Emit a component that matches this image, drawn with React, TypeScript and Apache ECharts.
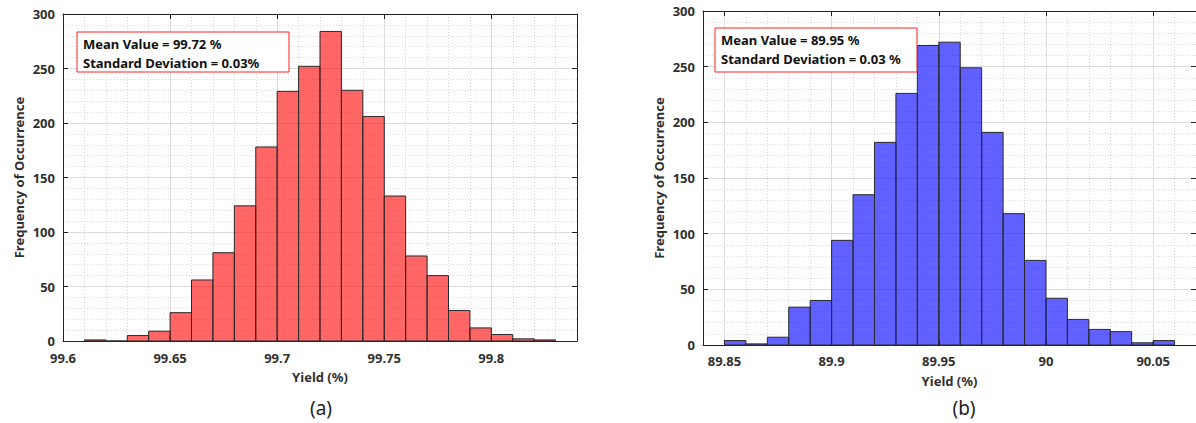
import React, { useEffect, useRef } from "react";
import * as echarts from "echarts";

// ---- data ----
const BIN_WIDTH = 0.01;
const binStartsA = [99.61, 99.62, 99.63, 99.64, 99.65, 99.66, 99.67, 99.68, 99.69, 99.7, 99.71, 99.72, 99.73, 99.74, 99.75, 99.76, 99.77, 99.78, 99.79, 99.8, 99.81, 99.82];
const countsA = [1, 0, 5, 9, 26, 56, 81, 124, 178, 229, 252, 284, 230, 206, 133, 78, 60, 28, 12, 6, 2, 1];
const binStartsB = [89.85, 89.86, 89.87, 89.88, 89.89, 89.9, 89.91, 89.92, 89.93, 89.94, 89.95, 89.96, 89.97, 89.98, 89.99, 90.0, 90.01, 90.02, 90.03, 90.04, 90.05];
const countsB = [4, 1, 7, 34, 40, 94, 135, 182, 226, 269, 272, 249, 191, 118, 76, 42, 23, 14, 12, 2, 4];
const xRangeA = [99.6, 99.84];
const xRangeB = [89.84, 90.07];
const yRange = [0, 300];
const annotA = ["Mean Value = 99.72 %", "Standard Deviation = 0.03%"];
const annotB = ["Mean Value = 89.95 %", "Standard Deviation = 0.03 %"];
const xTitle = "Yield (%)";
const yTitle = "Frequency of Occurrence";
const panelLabels = ["(a)", "(b)"];

const FONT = "'Noto Sans', 'Open Sans', 'DejaVu Sans', sans-serif";
const LABEL_COLOR = "#303030";
const AXIS_COLOR = "#222";

function toBins(starts: number[], counts: number[]) {
  return starts.map((s, i) => [s, +(s + BIN_WIDTH).toFixed(4), counts[i]]);
}

function xAxes(gridIndex: number, range: number[], showMin: boolean, margin: number) {
  const common = {
    type: "value" as const,
    gridIndex,
    min: range[0],
    max: range[1],
    axisLine: { show: true, onZero: false, lineStyle: { color: AXIS_COLOR, width: 1 } },
    axisTick: { show: true, inside: true, length: 5, lineStyle: { color: AXIS_COLOR } },
  };
  return [
    {
      ...common,
      position: "bottom",
      name: xTitle,
      nameLocation: "middle",
      nameGap: 29,
      nameTextStyle: { fontFamily: FONT, fontSize: 13, fontWeight: 700, color: LABEL_COLOR },
      axisLabel: {
        show: true,
        margin,
        lineHeight: 13,
        showMinLabel: showMin,
        showMaxLabel: false,
        fontFamily: FONT,
        fontSize: 13,
        fontWeight: 700,
        color: LABEL_COLOR,
      },
      splitLine: { show: true, lineStyle: { color: "#dcdcdc", width: 1 } },
      minorTick: { show: false, splitNumber: 5 },
      minorSplitLine: { show: true, lineStyle: { color: "#d8d8d8", type: [1, 2], width: 1 } },
    },
    {
      ...common,
      position: "top",
      axisLabel: { show: false },
      splitLine: { show: false },
    },
  ];
}

function yAxes(gridIndex: number) {
  const common = {
    type: "value" as const,
    gridIndex,
    min: yRange[0],
    max: yRange[1],
    interval: 50,
    axisLine: { show: true, onZero: false, lineStyle: { color: AXIS_COLOR, width: 1 } },
    axisTick: { show: true, inside: true, length: 5, lineStyle: { color: AXIS_COLOR } },
  };
  return [
    {
      ...common,
      position: "left",
      name: yTitle,
      nameLocation: "middle",
      nameGap: 38,
      nameTextStyle: { fontFamily: FONT, fontSize: 13, fontWeight: 700, color: LABEL_COLOR },
      axisLabel: {
        show: true,
        margin: 8,
        lineHeight: 12,
        fontFamily: FONT,
        fontSize: 13,
        fontWeight: 700,
        color: LABEL_COLOR,
      },
      splitLine: { show: true, lineStyle: { color: "#dcdcdc", width: 1 } },
      minorTick: { show: false, splitNumber: 5 },
      minorSplitLine: { show: true, lineStyle: { color: "#d8d8d8", type: [1, 2], width: 1 } },
    },
    {
      ...common,
      position: "right",
      axisLabel: { show: false },
      splitLine: { show: false },
    },
  ];
}

function histSeries(data: number[][], xi: number, yi: number, fill: string) {
  return {
    type: "custom",
    xAxisIndex: xi,
    yAxisIndex: yi,
    data,
    encode: { x: [0, 1], y: 2 },
    z: 3,
    renderItem: (params: any, api: any) => {
      const x0 = api.value(0);
      const x1 = api.value(1);
      const y = api.value(2);
      const p0 = api.coord([x0, y]);
      const p1 = api.coord([x1, 0]);
      return {
        type: "rect",
        shape: { x: p0[0], y: p0[1], width: p1[0] - p0[0], height: p1[1] - p0[1] },
        style: { fill, stroke: "#2a2a2a", lineWidth: 1 },
      };
    },
  };
}

function annotBox(x: number, y: number, w: number, h: number, lines: string[]) {
  return [
    { type: "rect", z: 50, shape: { x, y, width: w, height: h }, style: { fill: "#fff", stroke: "#ff2020", lineWidth: 1 } },
    {
      type: "text",
      z: 51,
      x: x + 6,
      y: y + 12,
      style: { text: lines[0], fontFamily: FONT, fontSize: 13, fontWeight: 700, fill: "#111", verticalAlign: "middle" },
    },
    {
      type: "text",
      z: 51,
      x: x + 6,
      y: y + 31,
      style: { text: lines[1], fontFamily: FONT, fontSize: 13, fontWeight: 700, fill: "#111", verticalAlign: "middle" },
    },
  ];
}

export default function App() {
  const ref = useRef<HTMLDivElement>(null);
  useEffect(() => {
    if (!ref.current) return;
    const chart = echarts.init(ref.current, undefined, { renderer: "svg" });
    const option = {
      animation: false,
      backgroundColor: "#ffffff",
      grid: [
        { left: 63, top: 14, width: 514, height: 327 },
        { left: 703, top: 11, width: 494, height: 334 },
      ],
      xAxis: [...xAxes(0, xRangeA, true, 10), ...xAxes(1, xRangeB, false, 9)],
      yAxis: [...yAxes(0), ...yAxes(1)],
      series: [
        histSeries(toBins(binStartsA, countsA), 0, 0, "rgba(255,0,0,0.6)"),
        histSeries(toBins(binStartsB, countsB), 2, 2, "rgba(0,0,255,0.62)"),
      ],
      graphic: [
        ...annotBox(77, 32, 212, 40, annotA),
        ...annotBox(715, 28, 202, 44, annotB),
        {
          type: "text",
          x: 321,
          y: 408,
          style: { text: panelLabels[0], fontFamily: FONT, fontSize: 19, fill: "#222", align: "center", verticalAlign: "middle" },
        },
        {
          type: "text",
          x: 964,
          y: 408,
          style: { text: panelLabels[1], fontFamily: FONT, fontSize: 19, fill: "#222", align: "center", verticalAlign: "middle" },
        },
      ],
    };
    chart.setOption(option as any);
    return () => chart.dispose();
  }, []);
  return <div ref={ref} style={{ position: "fixed", left: 0, top: 0, width: 1196, height: 423 }} />;
}
